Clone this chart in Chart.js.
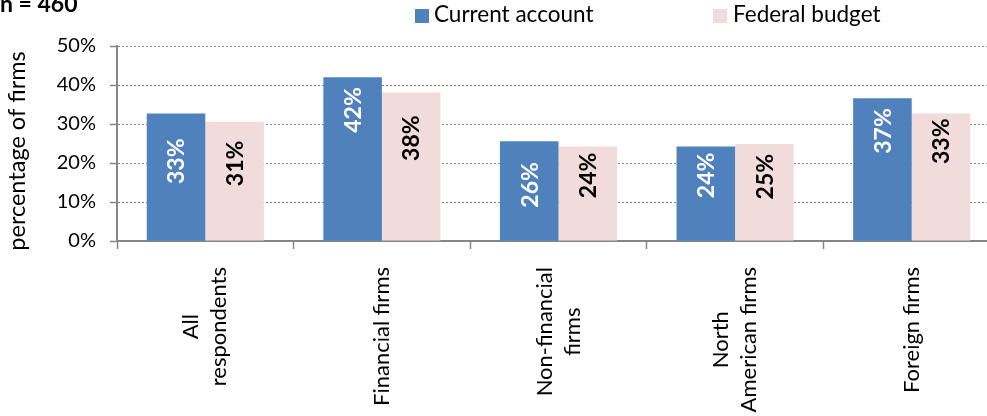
<!DOCTYPE html>
<html>
<head>
<meta charset="utf-8">
<script src="https://cdn.jsdelivr.net/npm/chart.js@4.4.1/dist/chart.umd.min.js"></script>
<style>
html,body{margin:0;padding:0;background:#fff;overflow:hidden;}
#wrap{width:1000px;height:416px;position:relative;}
</style>
</head>
<body>
<div id="wrap"><canvas id="c" width="1000" height="416"></canvas></div>
<script>
// ---- data ----
const categories = [["All","respondents"],["Financial firms"],["Non-financial","firms"],["North","American firms"],["Foreign firms"]];
const seriesNames = ["Current account","Federal budget"];
const currentAccount = [32.7, 42.0, 25.6, 24.2, 36.6];
const federalBudget = [30.6, 38.1, 24.2, 24.9, 32.7];
const yTicks = [0, 10, 20, 30, 40, 50];
const sampleNote = "n = 460";
const yTitle = "percentage of firms";

const FONT = "Lato, 'Open Sans', sans-serif";
const BLUE = "#4F81BD", PINK = "#F2DCDB", GRID = "#868686";

// label placement (distance in px from bar top to the label end)
const labelGap = [[25,10,21,6,10],[19,23,6,10,5]];

const decor = {
  id: 'decor',
  afterDatasetsDraw(chart) {
    const ctx = chart.ctx;
    const size = 23, capH = size * 0.72;
    chart.data.datasets.forEach((ds, di) => {
      const meta = chart.getDatasetMeta(di);
      meta.data.forEach((bar, i) => {
        const txt = Math.round(ds.data[i]) + '%';
        ctx.save();
        ctx.font = "bold " + size + "px " + FONT;
        ctx.fillStyle = di === 0 ? "#ffffff" : "#000000";
        ctx.translate(bar.x + capH / 2, bar.y + labelGap[di][i]);
        ctx.rotate(-Math.PI / 2);
        ctx.textAlign = 'right';
        ctx.textBaseline = 'alphabetic';
        ctx.fillText(txt, 0, 0);
        ctx.restore();
      });
    });
  },
  afterDraw(chart) {
    const ctx = chart.ctx;
    // x category labels
    const xs = chart.scales.x;
    const xSize = 22, lineH = 28;
    ctx.save();
    ctx.font = xSize + "px " + FONT;
    ctx.fillStyle = "#000";
    categories.forEach((lines, i) => {
      const cx = xs.getPixelForValue(i);
      const widths = lines.map(l => ctx.measureText(l).width);
      const maxW = Math.max(...widths);
      const topY = xs.top + 26;
      const centerY = topY + maxW / 2;
      lines.forEach((l, j) => {
        const bx = cx + (j - (lines.length - 1) / 2) * lineH + 7;
        ctx.save();
        ctx.translate(bx, centerY);
        ctx.rotate(-Math.PI / 2);
        ctx.textAlign = 'center';
        ctx.textBaseline = 'alphabetic';
        ctx.fillText(l, 0, 0);
        ctx.restore();
      });
    });
    ctx.restore();

    // y title
    ctx.save();
    ctx.font = "23.5px " + FONT;
    ctx.fillStyle = "#000";
    ctx.translate(25, 151);
    ctx.rotate(-Math.PI / 2);
    ctx.textAlign = 'center';
    ctx.textBaseline = 'alphabetic';
    ctx.fillText(yTitle, 0, 0);
    ctx.restore();

    // sample note
    ctx.save();
    ctx.font = "bold 23px " + FONT;
    ctx.fillStyle = "#000";
    ctx.textAlign = 'left';
    ctx.textBaseline = 'alphabetic';
    ctx.fillText(sampleNote, 0, 12);
    ctx.restore();

    // legend
    const legendPos = [[415, 434], [713, 733]];
    ctx.save();
    ctx.font = "22.5px " + FONT;
    chart.data.datasets.forEach((ds, di) => {
      ctx.fillStyle = ds.backgroundColor;
      ctx.fillRect(legendPos[di][0], 9, 14, 14);
      ctx.fillStyle = "#000";
      ctx.textAlign = 'left';
      ctx.textBaseline = 'alphabetic';
      ctx.fillText(ds.label, legendPos[di][1], 22);
    });
    ctx.restore();
  }
};

new Chart(document.getElementById('c'), {
  type: 'bar',
  data: {
    labels: categories.map(c => c.join(' ')),
    datasets: [
      { label: seriesNames[0], data: currentAccount, backgroundColor: BLUE, borderWidth: 0 },
      { label: seriesNames[1], data: federalBudget, backgroundColor: PINK, borderWidth: 0 }
    ]
  },
  options: {
    responsive: false,
    animation: false,
    devicePixelRatio: 1,
    layout: { padding: { left: 0, right: 0, top: 46, bottom: 0 } },
    plugins: { legend: { display: false }, tooltip: { enabled: false }, title: { display: false } },
    datasets: { bar: { categoryPercentage: 0.663, barPercentage: 1.0 } },
    scales: {
      x: {
        afterFit(s) { s.height = 175; },
        ticks: { display: false },
        grid: { offset: true, drawOnChartArea: false, drawTicks: true, tickLength: 8, tickColor: GRID, tickWidth: 1.5 },
        border: { display: true, color: GRID, width: 2 }
      },
      y: {
        min: 0, max: 50,
        afterFit(s) { s.width = 117; },
        afterBuildTicks(s) { s.ticks = yTicks.map(v => ({ value: v })); },
        ticks: {
          callback: v => v + '%',
          font: { family: FONT, size: 20 },
          color: '#000',
          padding: 14
        },
        grid: { color: GRID, lineWidth: 1, drawTicks: true, tickLength: 7, tickColor: GRID, tickWidth: 1.5 },
        border: { display: true, color: GRID, width: 2, dash: [2, 2] }
      }
    }
  },
  plugins: [decor]
});
</script>
</body>
</html>
